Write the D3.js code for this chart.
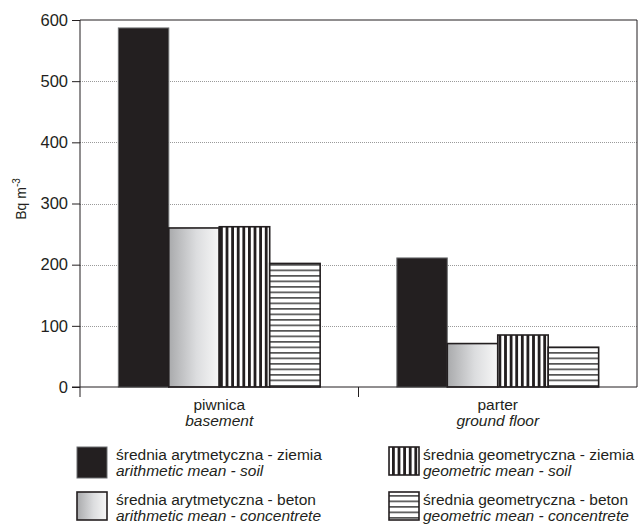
<!DOCTYPE html>
<html>
<head>
<meta charset="utf-8">
<script src="https://cdn.jsdelivr.net/npm/d3@7"></script>
<style>
  body { margin: 0; background: #fff; }
  svg { display: block; }
  text { font-family: "Liberation Sans", Arial, sans-serif; fill: #231f20; }
</style>
</head>
<body>
<svg id="chart" width="639" height="526"></svg>
<script>
const categories = ["piwnica", "parter"];
const categoriesEn = ["basement", "ground floor"];
const seriesKeys = ["am_soil", "am_concrete", "gm_soil", "gm_concrete"];
const seriesPl = ["średnia arytmetyczna - ziemia", "średnia arytmetyczna - beton", "średnia geometryczna - ziemia", "średnia geometryczna - beton"];
const seriesEn = ["arithmetic mean - soil", "arithmetic mean - concentrete", "geometric mean - soil", "geometric mean - concentrete"];
const amSoil = [587, 211];
const amConcrete = [260, 71];
const gmSoil = [262, 85];
const gmConcrete = [202, 65];
const yTicks = [0, 100, 200, 300, 400, 500, 600];

const values = [amSoil, amConcrete, gmSoil, gmConcrete];
const svg = d3.select("#chart");
const m = { left: 80, right: 637, top: 20, bottom: 387 };
const FS = 15.5;

const defs = svg.append("defs");
const grad = defs.append("linearGradient").attr("id", "grad").attr("x1", "0").attr("x2", "1").attr("y1", "0").attr("y2", "0");
grad.append("stop").attr("offset", "0").attr("stop-color", "#a9aaac");
grad.append("stop").attr("offset", "0.55").attr("stop-color", "#dcdddf");
grad.append("stop").attr("offset", "1").attr("stop-color", "#f7f7f7");

const pv = defs.append("pattern").attr("id", "vstripe").attr("patternUnits", "userSpaceOnUse").attr("width", 5.6).attr("height", 10);
pv.append("rect").attr("width", 5.6).attr("height", 10).attr("fill", "#fff");
pv.append("rect").attr("x", 0).attr("width", 2.8).attr("height", 10).attr("fill", "#231f20");

const ph = defs.append("pattern").attr("id", "hstripe").attr("patternUnits", "userSpaceOnUse").attr("width", 10).attr("height", 5.5);
ph.append("rect").attr("width", 10).attr("height", 5.5).attr("fill", "#fff");
ph.append("rect").attr("y", 0).attr("width", 10).attr("height", 1.7).attr("fill", "#555");

const fills = ["#231f20", "url(#grad)", "url(#vstripe)", "url(#hstripe)"];

const y = d3.scaleLinear().domain([0, 600]).range([m.bottom, m.top]);
const x0 = d3.scaleBand().domain(categories).range([m.left, m.right]).paddingInner(0).paddingOuter(0);
const x1 = d3.scaleBand().domain(seriesKeys).range([0, x0.bandwidth()]).paddingInner(0).paddingOuter(0.76);

// gridlines
svg.append("g").selectAll("line").data(yTicks.filter(d => d > 0 && d < 600)).join("line")
  .attr("x1", m.left).attr("x2", m.right)
  .attr("y1", d => Math.round(y(d)) + 0.5).attr("y2", d => Math.round(y(d)) + 0.5)
  .attr("stroke", "#9a9a9a").attr("stroke-width", 1).attr("stroke-dasharray", "1,1");

// bars
const groups = svg.append("g").selectAll("g").data(categories).join("g")
  .attr("transform", d => `translate(${x0(d)},0)`);
groups.selectAll("rect").data((c, ci) => seriesKeys.map((k, si) => ({ k, si, v: values[si][ci] }))).join("rect")
  .attr("x", d => x1(d.k))
  .attr("width", x1.bandwidth())
  .attr("y", d => y(d.v))
  .attr("height", d => y(0) - y(d.v))
  .attr("fill", d => fills[d.si])
  .attr("stroke", d => d.si === 0 ? "#6d6e70" : "#231f20")
  .attr("stroke-width", d => d.si === 0 ? 1 : 1.6);

// frame
svg.append("line").attr("x1", m.left).attr("x2", m.right).attr("y1", m.top).attr("y2", m.top).attr("stroke", "#231f20");
svg.append("line").attr("x1", m.right).attr("x2", m.right).attr("y1", m.top).attr("y2", m.bottom).attr("stroke", "#231f20");

// y axis
const yAxis = svg.append("g").attr("transform", `translate(${m.left},0)`)
  .call(d3.axisLeft(y).tickValues(yTicks).tickSize(8).tickPadding(4).tickFormat(d3.format("d")));
yAxis.select(".domain").remove();
yAxis.selectAll(".tick line").attr("stroke", "#231f20");
yAxis.selectAll("text").attr("font-size", 16.5).style("fill", "#231f20")
  .style("font-family", '"Liberation Sans", Arial, sans-serif');
svg.append("line").attr("x1", m.left).attr("x2", m.left).attr("y1", m.top).attr("y2", m.bottom + 10).attr("stroke", "#231f20");

// x axis
svg.append("line").attr("x1", m.left - 8).attr("x2", m.right).attr("y1", m.bottom).attr("y2", m.bottom).attr("stroke", "#231f20");
const boundaries = categories.slice(1).map(c => x0(c));
svg.append("g").selectAll("line").data(boundaries).join("line")
  .attr("x1", d => d).attr("x2", d => d).attr("y1", m.bottom).attr("y2", m.bottom + 10).attr("stroke", "#231f20");

const cat = svg.append("g").selectAll("g").data(categories).join("g")
  .attr("transform", d => `translate(${x0(d) + x0.bandwidth() / 2},0)`);
cat.append("text").attr("y", 410).attr("text-anchor", "middle").attr("font-size", FS).text(d => d);
cat.append("text").attr("y", 426).attr("text-anchor", "middle").attr("font-size", FS).attr("font-style", "italic")
  .text((d, i) => categoriesEn[i]);

// y label
const yl = svg.append("text").attr("transform", "translate(26,199) rotate(-90)").attr("text-anchor", "middle").attr("font-size", 14);
yl.append("tspan").text("Bq m");
yl.append("tspan").attr("font-size", 10).attr("dy", -6).text("-3");

// legend
const legPos = [
  { sx: 77, sy: 447, tx: 116 },
  { sx: 77, sy: 492, tx: 116 },
  { sx: 389, sy: 447, tx: 423 },
  { sx: 389, sy: 492, tx: 423 }
];
const leg = svg.append("g").selectAll("g").data(seriesKeys).join("g");
leg.append("rect")
  .attr("x", (d, i) => legPos[i].sx)
  .attr("y", (d, i) => legPos[i].sy)
  .attr("width", 30)
  .attr("height", (d, i) => i === 0 ? 31 : 28)
  .attr("fill", (d, i) => fills[i])
  .attr("stroke", (d, i) => i === 0 ? "#6d6e70" : "#231f20")
  .attr("stroke-width", (d, i) => i === 0 ? 1 : 1.6);
leg.append("text").attr("x", (d, i) => legPos[i].tx).attr("y", (d, i) => legPos[i].sy + 13)
  .attr("font-size", FS).text((d, i) => seriesPl[i]);
leg.append("text").attr("x", (d, i) => legPos[i].tx).attr("y", (d, i) => legPos[i].sy + 29)
  .attr("font-size", FS).attr("font-style", "italic").text((d, i) => seriesEn[i]);
</script>
</body>
</html>
